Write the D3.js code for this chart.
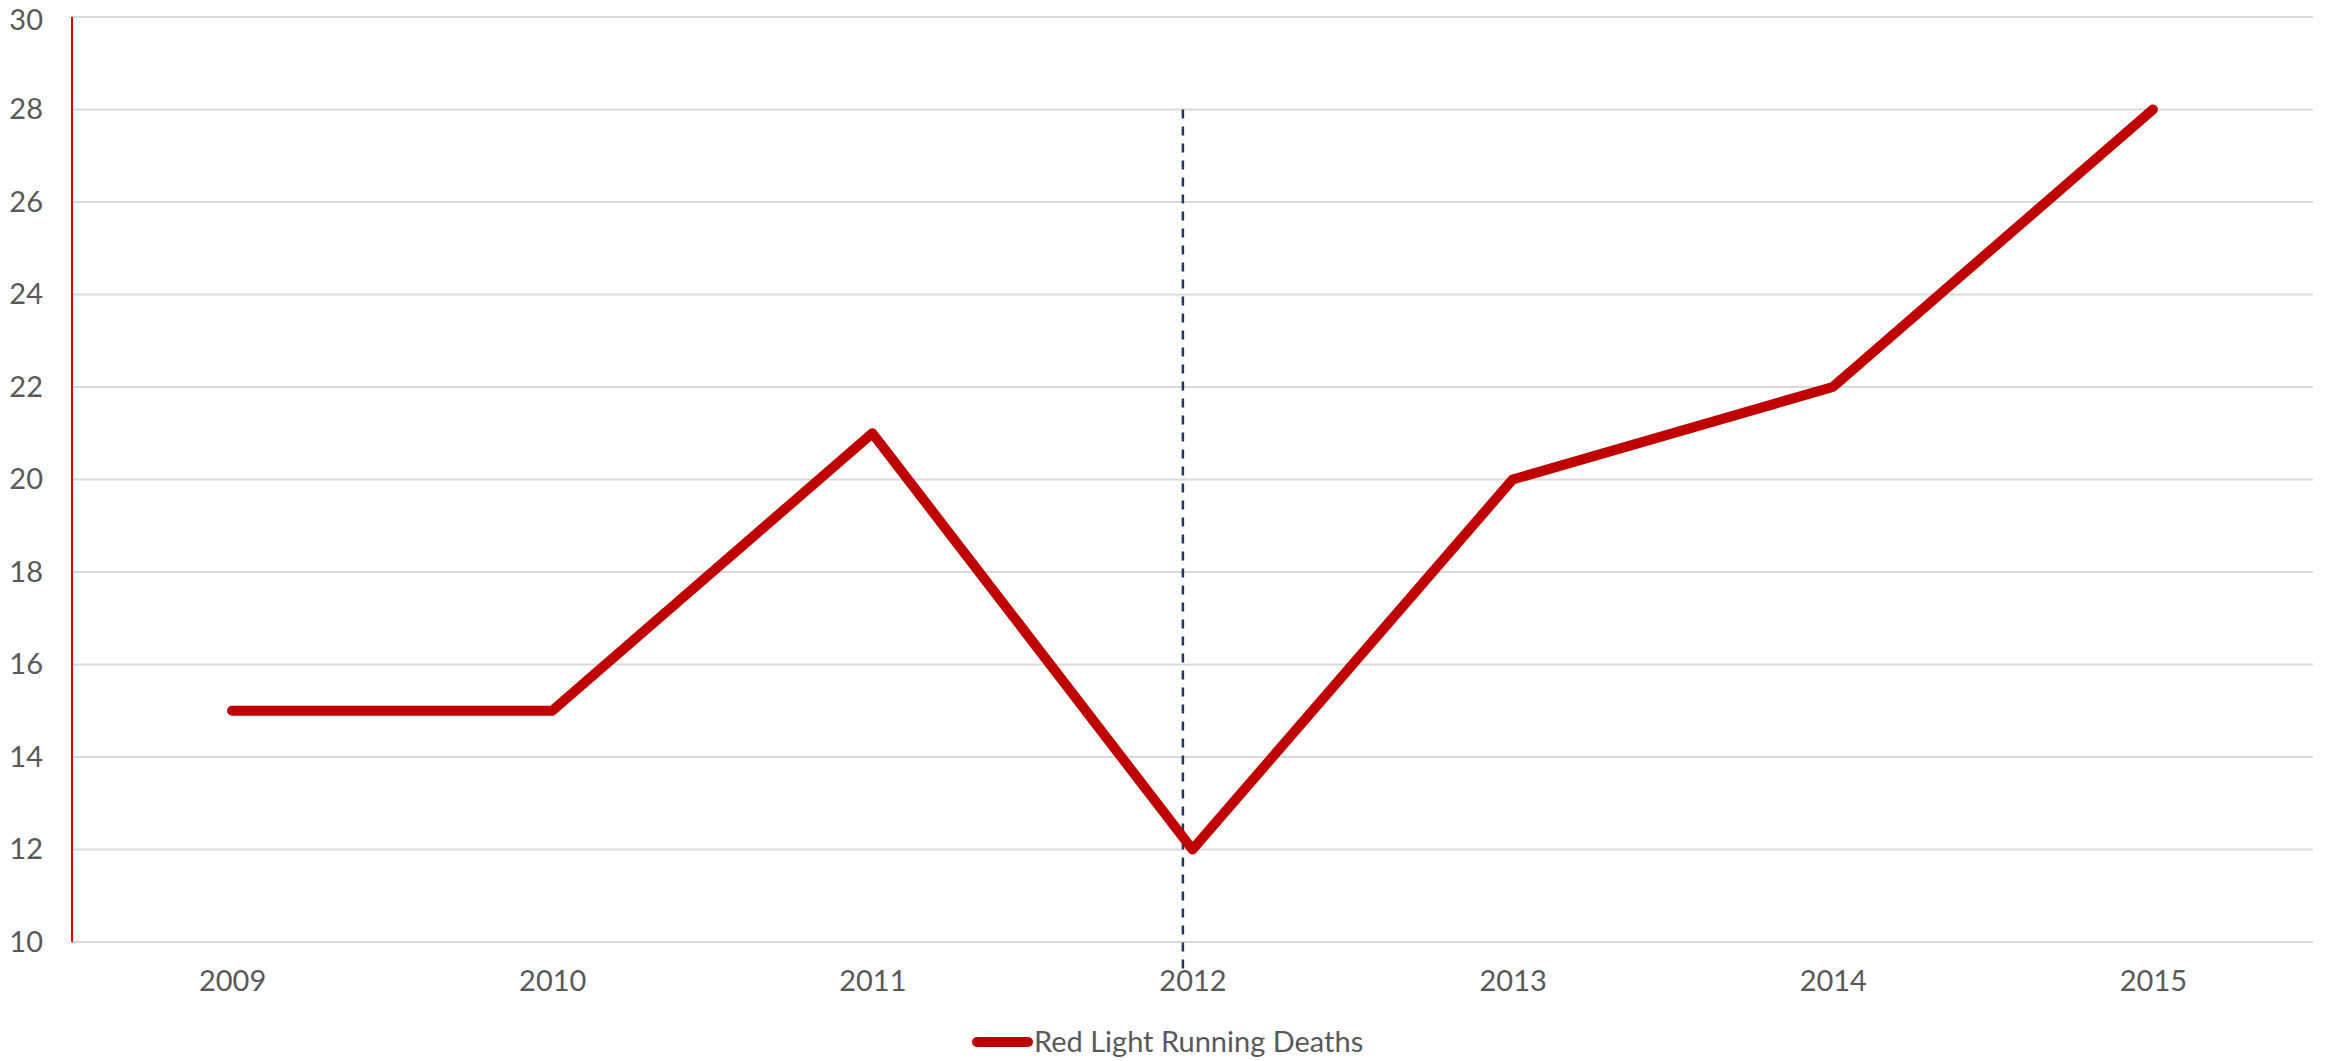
<!DOCTYPE html>
<html>
<head>
<meta charset="utf-8">
<script src="https://cdn.jsdelivr.net/npm/d3@7"></script>
<style>
  html, body { margin: 0; padding: 0; background: #fff; }
  svg { display: block; }
  text { font-family: "Lato", "Open Sans", sans-serif; fill: #595959; }
</style>
</head>
<body>
<svg id="chart" width="2326" height="1061"></svg>
<script>
// Yearly red light running deaths
const years = [2009, 2010, 2011, 2012, 2013, 2014, 2015];
const deaths = [15, 15, 21, 12, 20, 22, 28];
const yTicks = [10, 12, 14, 16, 18, 20, 22, 24, 26, 28, 30];
const seriesName = "Red Light Running Deaths";
// vertical reference marker (year position and the value it reaches up to)
const markerYear = [2011.97];
const markerTop = [28];

const W = 2326, H = 1061;
const margin = { left: 72, right: 13, top: 17, bottom: 119 };
const fontSize = 29;
const svg = d3.select("#chart");

const x = d3.scaleLinear()
  .domain([years[0] - 0.5, years[years.length - 1] + 0.5])
  .range([margin.left, W - margin.right]);
const y = d3.scaleLinear()
  .domain([10, 30])
  .range([H - margin.bottom, margin.top]);

// horizontal gridlines
svg.append("g")
  .selectAll("line")
  .data(yTicks)
  .join("line")
  .attr("x1", margin.left)
  .attr("x2", W - margin.right)
  .attr("y1", d => y(d))
  .attr("y2", d => y(d))
  .attr("stroke", "#d9d9d9")
  .attr("stroke-width", 2);

// y axis labels
const yAxis = svg.append("g")
  .attr("transform", `translate(${margin.left},0)`)
  .call(d3.axisLeft(y).tickValues(yTicks).tickSize(0).tickPadding(29).tickFormat(d3.format("d")));
yAxis.select(".domain").remove();
yAxis.selectAll("text")
  .style("font-family", "Lato, 'Open Sans', sans-serif")
  .style("font-size", fontSize + "px")
  .attr("fill", "#595959");
// keep the topmost label inside the canvas
yAxis.selectAll(".tick")
  .filter(d => d === yTicks[yTicks.length - 1])
  .select("text")
  .attr("y", 3);

// y axis line
svg.append("line")
  .attr("x1", margin.left).attr("x2", margin.left)
  .attr("y1", y(30)).attr("y2", y(10))
  .attr("stroke", "#e00000")
  .attr("stroke-width", 2);

// x axis labels
const xAxis = svg.append("g")
  .attr("transform", `translate(0,${y(10)})`)
  .call(d3.axisBottom(x).tickValues(years).tickSize(0).tickPadding(28).tickFormat(d3.format("d")));
xAxis.select(".domain").remove();
xAxis.selectAll("text")
  .style("font-family", "Lato, 'Open Sans', sans-serif")
  .style("font-size", fontSize + "px")
  .attr("fill", "#595959");

// dashed reference line
svg.append("g")
  .selectAll("line")
  .data(markerYear)
  .join("line")
  .attr("x1", d => x(d)).attr("x2", d => x(d))
  .attr("y1", (d, i) => y(markerTop[i]))
  .attr("y2", y(10) + 33)
  .attr("stroke", "#1f3864")
  .attr("stroke-width", 2.5)
  .attr("stroke-dasharray", "9,8");

// the series line
const line = d3.line()
  .x((d, i) => x(years[i]))
  .y(d => y(d));
svg.append("path")
  .datum(deaths)
  .attr("d", line)
  .attr("fill", "none")
  .attr("stroke", "#c00000")
  .attr("stroke-width", 10)
  .attr("stroke-linejoin", "round")
  .attr("stroke-linecap", "round");

// legend
const legend = svg.append("g").attr("transform", "translate(972,1042)");
legend.append("line")
  .attr("x1", 5).attr("x2", 56)
  .attr("y1", 0).attr("y2", 0)
  .attr("stroke", "#c00000")
  .attr("stroke-width", 10)
  .attr("stroke-linecap", "round");
legend.append("text")
  .attr("x", 62)
  .attr("y", 10)
  .style("font-size", fontSize + "px")
  .text(seriesName);
</script>
</body>
</html>
